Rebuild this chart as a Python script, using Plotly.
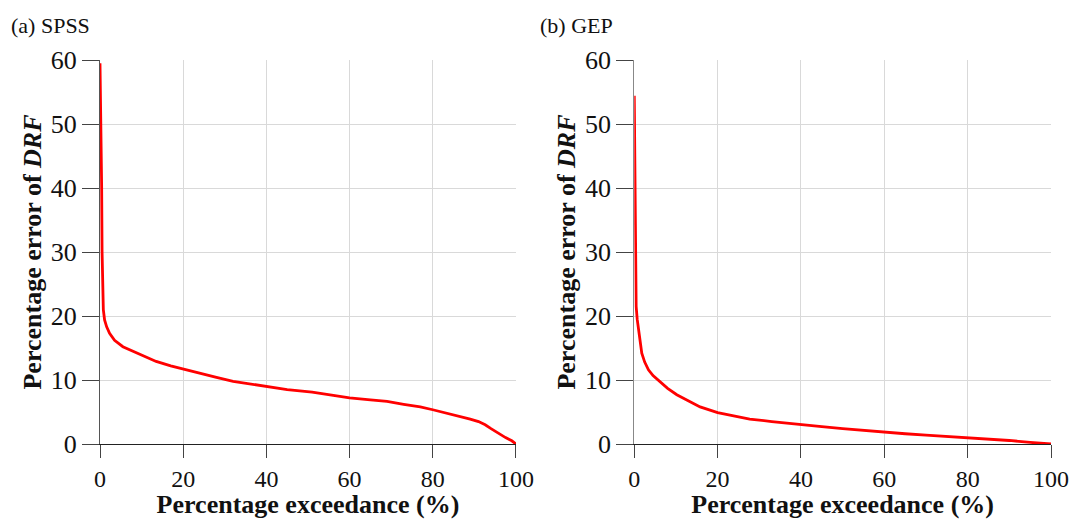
import plotly.graph_objects as go

# SPSS exceedance curve
spss_x = [0, 0.1, 0.25, 0.4, 0.5, 0.6, 0.8, 1.1, 1.6, 2.3, 3.5, 5.5, 8, 10, 13.5, 17, 20,
          24, 28, 32, 36, 40, 45, 51, 56, 60, 65, 69, 73, 77, 80, 83, 86.2, 89, 91,
          92.6, 94, 95.9, 97.5, 99, 100]
spss_y = [59.5, 55, 50, 40, 30, 24, 21, 19.4, 18.3, 17.3, 16.2, 15.2, 14.5, 14, 12.9, 12.2, 11.7,
          11.0, 10.4, 9.8, 9.4, 9.0, 8.5, 8.1, 7.6, 7.2, 6.9, 6.65, 6.2, 5.8, 5.35, 4.9, 4.4, 3.9, 3.5,
          3.0, 2.4, 1.6, 1.0, 0.5, 0]

# GEP exceedance curve
gep_x = [0, 0.1, 0.2, 0.3, 0.45, 0.7, 1.0, 1.4, 1.8, 2.5, 3.4, 4.5, 6.2, 8, 10.2, 13, 15.8,
         20, 24, 27.7, 33, 40, 45, 50, 55, 60, 65, 70, 75, 80, 85, 90, 95, 100]
gep_y = [54.4, 45, 35, 26, 21.5, 19.5, 17.8, 15.8, 14.2, 12.8, 11.6, 10.7, 9.7, 8.7, 7.7, 6.7, 5.8,
         4.9, 4.4, 3.9, 3.5, 3.1, 2.7, 2.4, 2.1, 1.8, 1.6, 1.4, 1.2, 1.05, 0.8, 0.55, 0.25, 0]

x_ticks = [0, 20, 40, 60, 80, 100]
y_ticks = [0, 10, 20, 30, 40, 50, 60]
panel_labels = ["(a) SPSS", "(b) GEP"]

FONT = "Times New Roman, Liberation Serif, Tinos, serif"
LINE = "#ff0000"

fig = go.Figure()
fig.add_trace(go.Scatter(x=spss_x, y=spss_y, mode="lines", line=dict(color=LINE, width=2.8),
                         xaxis="x", yaxis="y", showlegend=False))
fig.add_trace(go.Scatter(x=gep_x, y=gep_y, mode="lines", line=dict(color=LINE, width=2.8),
                         xaxis="x2", yaxis="y2", showlegend=False))

def xax(domain, anchor):
    return dict(domain=domain, anchor=anchor, range=[0, 100], tickvals=x_ticks,
                ticks="outside", ticklen=13, tickcolor="#444", tickwidth=1,
                showline=True, linecolor="#222", linewidth=1, automargin=False,
                showgrid=True, gridcolor="#d9d9d9", gridwidth=1, zeroline=False,
                tickfont=dict(family=FONT, size=24, color="#111"),
                title=dict(text="<b>Percentage exceedance (%)</b>", standoff=12,
                           font=dict(family=FONT, size=26, color="#111")))

def yax(anchor, linecolor):
    return dict(anchor=anchor, domain=[0, 1], range=[0, 60], tickvals=y_ticks,
                ticks="outside", ticklen=17, tickcolor="#444", tickwidth=1,
                showline=True, linecolor=linecolor, linewidth=1, automargin=False,
                showgrid=True, gridcolor="#d9d9d9", gridwidth=1, zeroline=False,
                tickfont=dict(family=FONT, size=26, color="#111"),
                title=dict(text="<b>Percentage error of <i>DRF</i></b>", standoff=1,
                           font=dict(family=FONT, size=26, color="#111")))

fig.update_layout(
    width=1072, height=519,
    margin=dict(l=100, r=21, t=60, b=75),
    paper_bgcolor="white", plot_bgcolor="white",
    xaxis=xax([0, 0.4374], "y"),
    yaxis=yax("x", "#555"),
    xaxis2=xax([0.5618, 1], "y2"),
    yaxis2=yax("x2", "#888"),
    annotations=[
        dict(text=panel_labels[0], x=-0.096, y=1.09, xref="paper", yref="paper",
             xanchor="left", yanchor="middle", showarrow=False,
             font=dict(family=FONT, size=22, color="#111")),
        dict(text=panel_labels[1], x=0.4605, y=1.09, xref="paper", yref="paper",
             xanchor="left", yanchor="middle", showarrow=False,
             font=dict(family=FONT, size=22, color="#111")),
    ],
)

fig.write_html("out.html")
